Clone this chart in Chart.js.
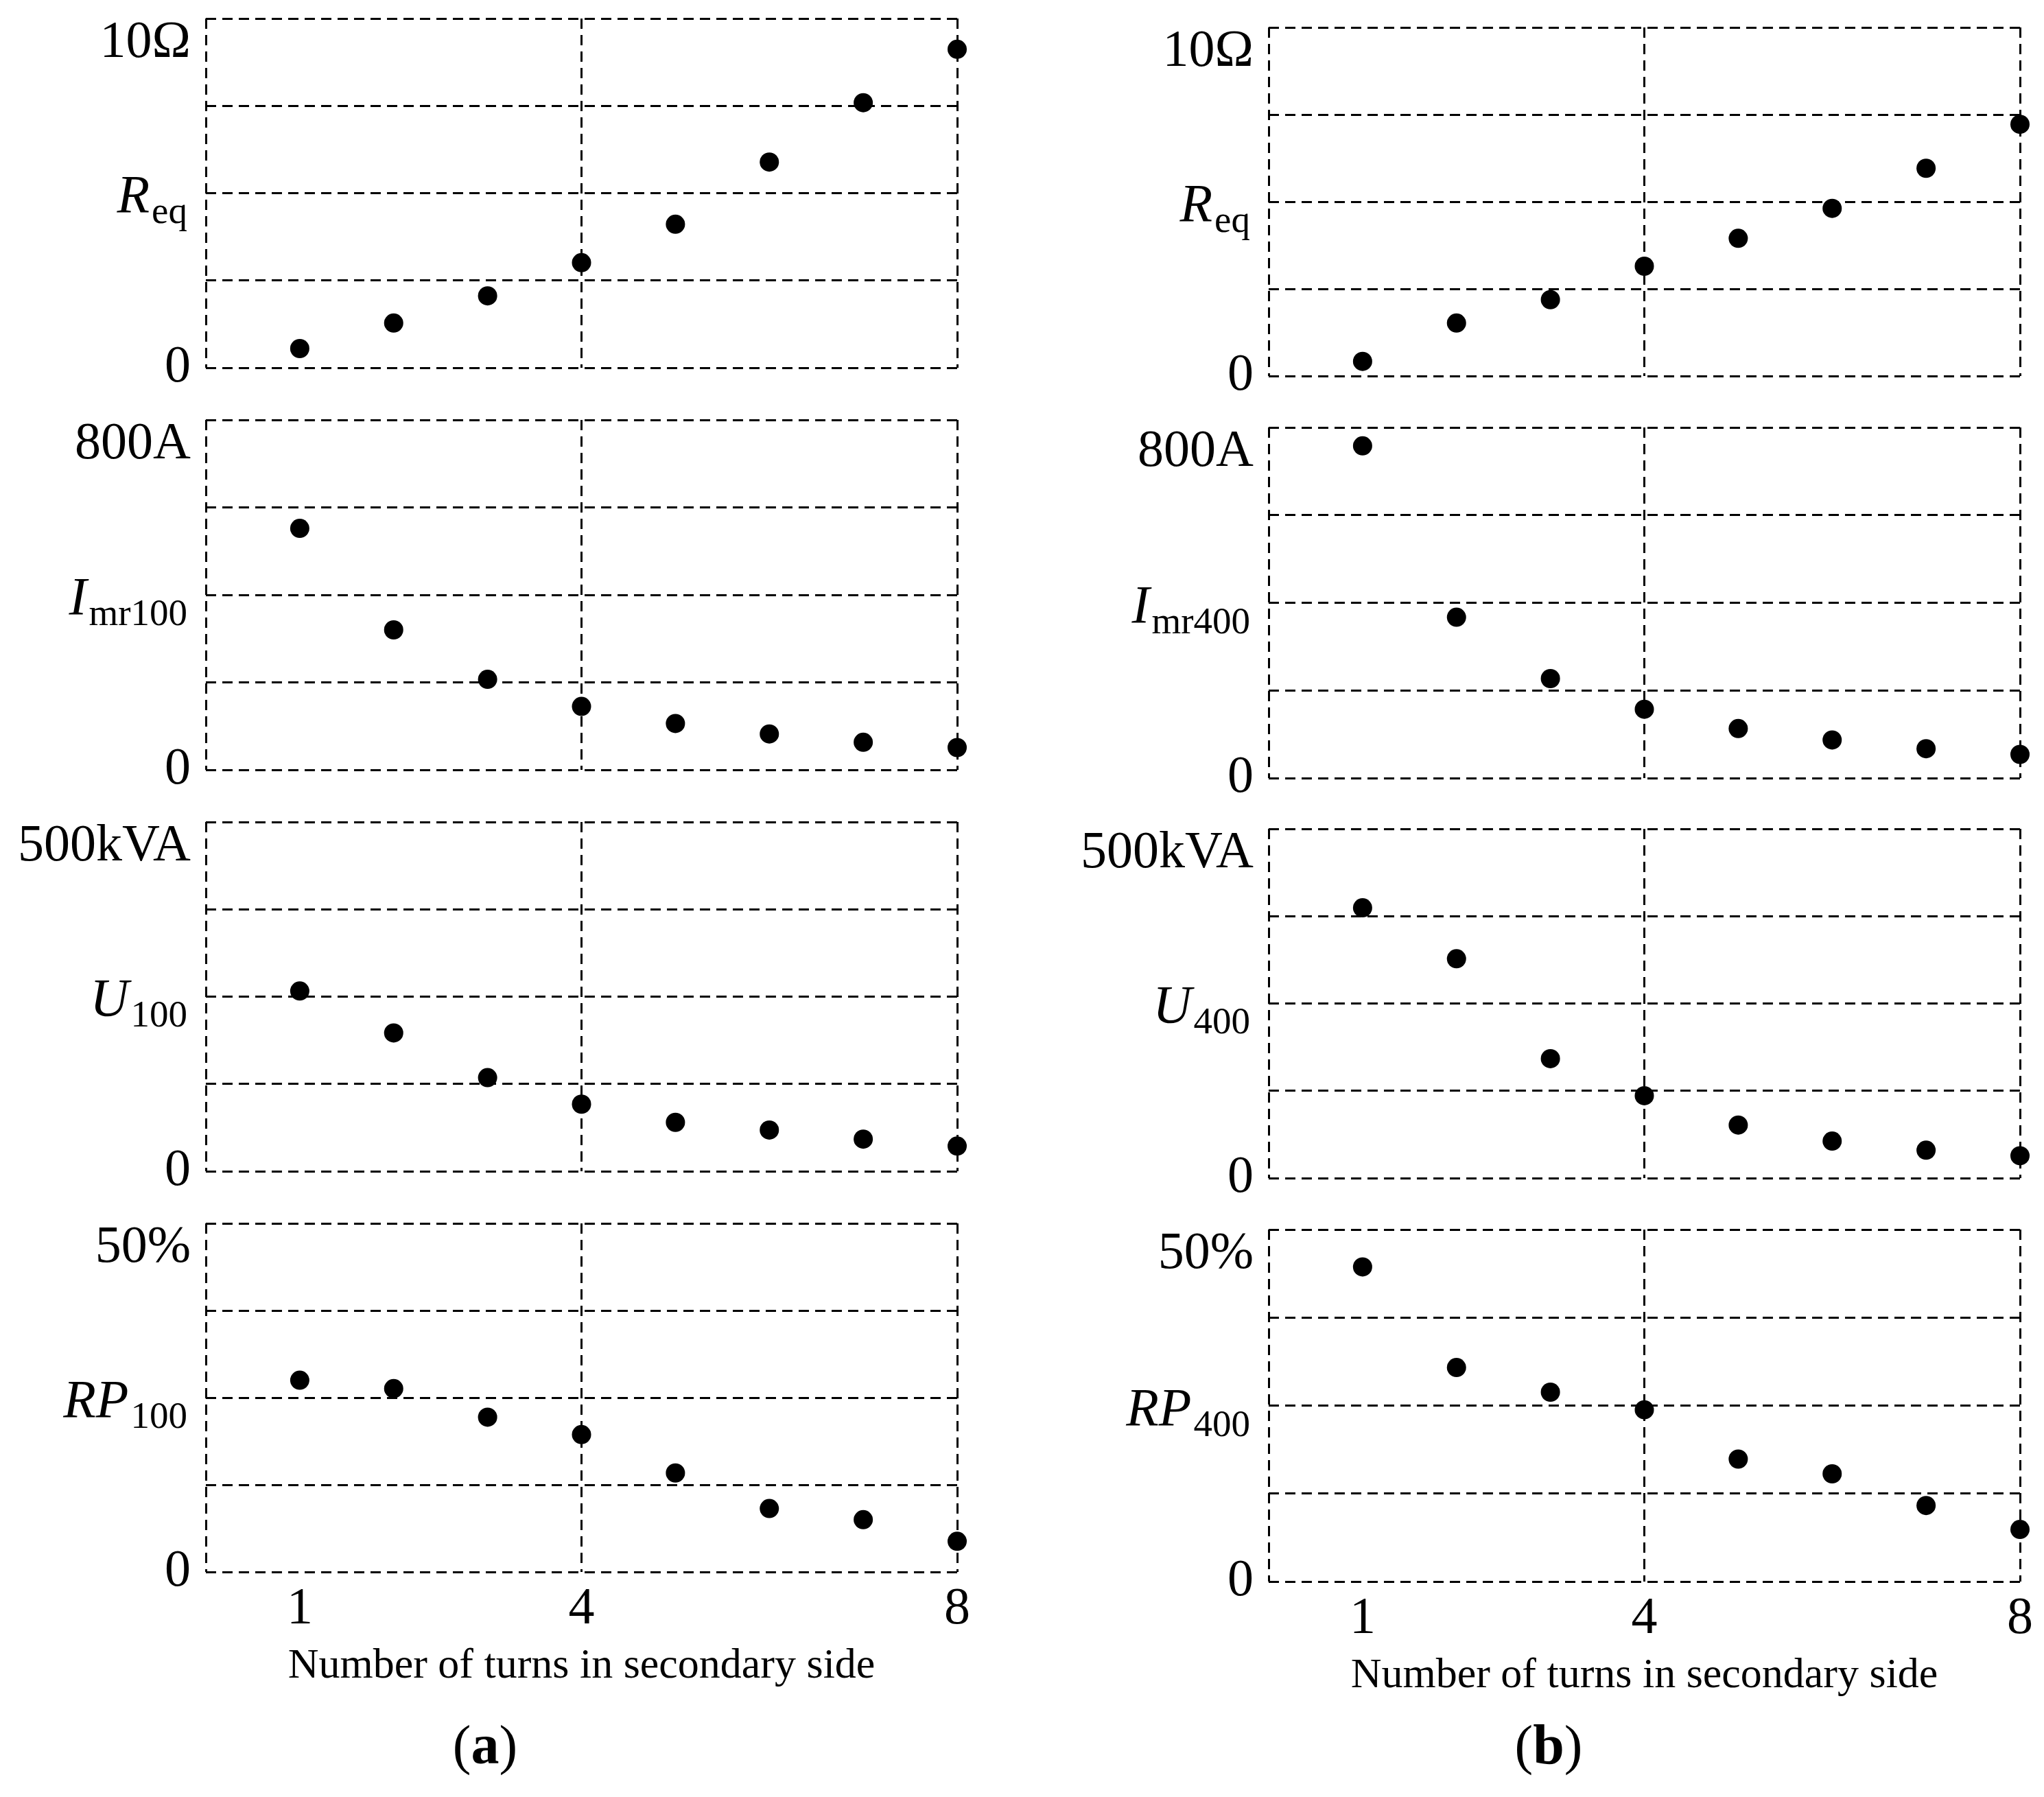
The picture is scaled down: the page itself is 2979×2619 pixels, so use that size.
<!DOCTYPE html>
<html>
<head>
<meta charset="utf-8">
<script src="https://cdn.jsdelivr.net/npm/chart.js@4.4.1/dist/chart.umd.min.js"></script>
<style>
  body { margin: 0; background: #fff; width: 2979px; height: 2619px; position: relative; overflow: hidden; }
  canvas { position: absolute; }
</style>
</head>
<body>
<script>
  // data
  const turns = [1, 2, 3, 4, 5, 6, 7, 8];
  const xTicks = [0, 1, 4, 8];

  const reqA = [0.55, 1.28, 2.06, 3.01, 4.11, 5.89, 7.59, 9.12];
  const imrA = [552, 320, 207, 145, 106, 82, 63, 51];
  const uA = [258, 198, 134, 96, 70, 59, 46, 36];
  const rpA = [27.5, 26.3, 22.2, 19.7, 14.2, 9.1, 7.5, 4.4];

  const reqB = [0.42, 1.52, 2.19, 3.15, 3.95, 4.81, 5.96, 7.22];
  const imrB = [758, 367, 227, 157, 113, 87, 67, 54];
  const uB = [387, 314, 171, 118, 76, 53, 40, 32];
  const rpB = [44.7, 30.4, 26.9, 24.4, 17.4, 15.3, 10.8, 7.4];

  const yMax = [10, 800, 500, 50];
  const topLabels = ['10Ω', '800A', '500kVA', '50%'];
  const namesA = [['R', 'eq'], ['I', 'mr100'], ['U', '100'], ['RP', '100']];
  const namesB = [['R', 'eq'], ['I', 'mr400'], ['U', '400'], ['RP', '400']];
  const xTitle = 'Number of turns in secondary side';

  const FONT = '"Liberation Serif", "Times New Roman", serif';

  const panels = [
    { tag: 'a', left: 0, width: 1440, areaL: 300, areaR: 1395, tagX: 707,
      tops: [27, 612, 1198, 1783], bottoms: [536, 1122, 1707, 2291],
      series: [reqA, imrA, uA, rpA], names: namesA },
    { tag: 'b', left: 1540, width: 1439, areaL: 1849, areaR: 2944, tagX: 2257,
      tops: [40, 623, 1208, 1792], bottoms: [548, 1134, 1717, 2305],
      series: [reqB, imrB, uB, rpB], names: namesB }
  ];

  // y labels, axis names and the (a)/(b) tag
  const sideText = {
    id: 'sideText',
    afterDraw(chart, args, o) {
      const ctx = chart.ctx;
      const a = chart.chartArea;
      const y = chart.scales.y;
      ctx.save();
      ctx.fillStyle = '#000';
      ctx.textAlign = 'right';
      ctx.textBaseline = 'alphabetic';
      ctx.font = '76px ' + FONT;
      ctx.fillText(o.top, a.left - 22, y.getPixelForValue(y.max) + 56);
      ctx.fillText('0', a.left - 22, y.getPixelForValue(0) + 20);

      let base = a.top + 0.555 * (a.bottom - a.top);
      ctx.font = '55px ' + FONT;
      let subW = ctx.measureText(o.sub).width;
      ctx.fillText(o.sub, a.left - 27, base + 16);
      ctx.font = 'italic 78px ' + FONT;
      ctx.fillText(o.main, a.left - 27 - subW - 3, base);

      if (o.tag) {
        ctx.textAlign = 'left';
        ctx.font = '80px ' + FONT;
        let pw = ctx.measureText('(').width;
        ctx.font = 'bold 82px ' + FONT;
        let aw = ctx.measureText(o.tag).width;
        let x = o.tagX - (2 * pw + aw) / 2;
        ctx.font = '80px ' + FONT;
        ctx.fillText('(', x, o.tagY);
        ctx.fillText(')', x + pw + aw, o.tagY);
        ctx.font = 'bold 82px ' + FONT;
        ctx.fillText(o.tag, x + pw, o.tagY);
      }
      ctx.restore();
    }
  };

  panels.forEach(p => {
    for (let i = 0; i < 4; i++) {
      let isBottom = i === 3;
      let plotH = p.bottoms[i] - p.tops[i];
      let top = p.tops[i] - 40;
      let height = 40 + plotH + (isBottom ? 330 : 40);

      let canvas = document.createElement('canvas');
      canvas.width = p.width;
      canvas.height = height;
      canvas.style.left = p.left + 'px';
      canvas.style.top = top + 'px';
      canvas.style.width = p.width + 'px';
      canvas.style.height = height + 'px';
      document.body.appendChild(canvas);

      let max = yMax[i];
      let vals = p.series[i];

      new Chart(canvas, {
        type: 'scatter',
        data: {
          datasets: [{
            data: turns.map((t, k) => ({ x: t, y: vals[k] })),
            pointRadius: 14,
            pointHoverRadius: 14,
            backgroundColor: '#000',
            borderWidth: 0,
            clip: false
          }]
        },
        options: {
          responsive: false,
          animation: false,
          devicePixelRatio: 1,
          layout: { padding: { left: p.areaL - p.left, right: p.left + p.width - p.areaR, top: 40, bottom: 40 } },
          plugins: {
            legend: { display: false },
            tooltip: { enabled: false },
            sideText: {
              top: topLabels[i], main: p.names[i][0], sub: p.names[i][1],
              tag: isBottom ? p.tag : null,
              tagX: p.tagX - p.left, tagY: 2570 - top
            }
          },
          scales: {
            x: {
              type: 'linear', min: 0, max: 8,
              afterBuildTicks: s => { s.ticks = xTicks.map(v => ({ value: v })); },
              afterFit: s => { s.height = isBottom ? 290 : 0; },
              grid: {
                color: c => (c.tick && c.tick.value === 1) ? 'rgba(0,0,0,0)' : '#000',
                lineWidth: 3,
                drawTicks: false
              },
              border: { display: false, dash: [15, 9] },
              ticks: {
                display: isBottom,
                autoSkip: false,
                maxRotation: 0,
                padding: 9,
                color: '#000',
                font: { family: FONT, size: 76 },
                callback: v => v === 0 ? '' : String(v)
              },
              title: {
                display: isBottom,
                text: xTitle,
                color: '#000',
                font: { family: FONT, size: 62 },
                padding: { top: 0, bottom: 115 }
              }
            },
            y: {
              min: 0, max: max,
              afterBuildTicks: s => { s.ticks = [0, 1, 2, 3, 4].map(k => ({ value: max * k / 4 })); },
              afterFit: s => { s.width = 0; },
              grid: { color: '#000', lineWidth: 3, drawTicks: false },
              border: { display: false, dash: [15, 9] },
              ticks: { display: false }
            }
          }
        },
        plugins: [sideText]
      });
    }
  });
</script>
</body>
</html>
